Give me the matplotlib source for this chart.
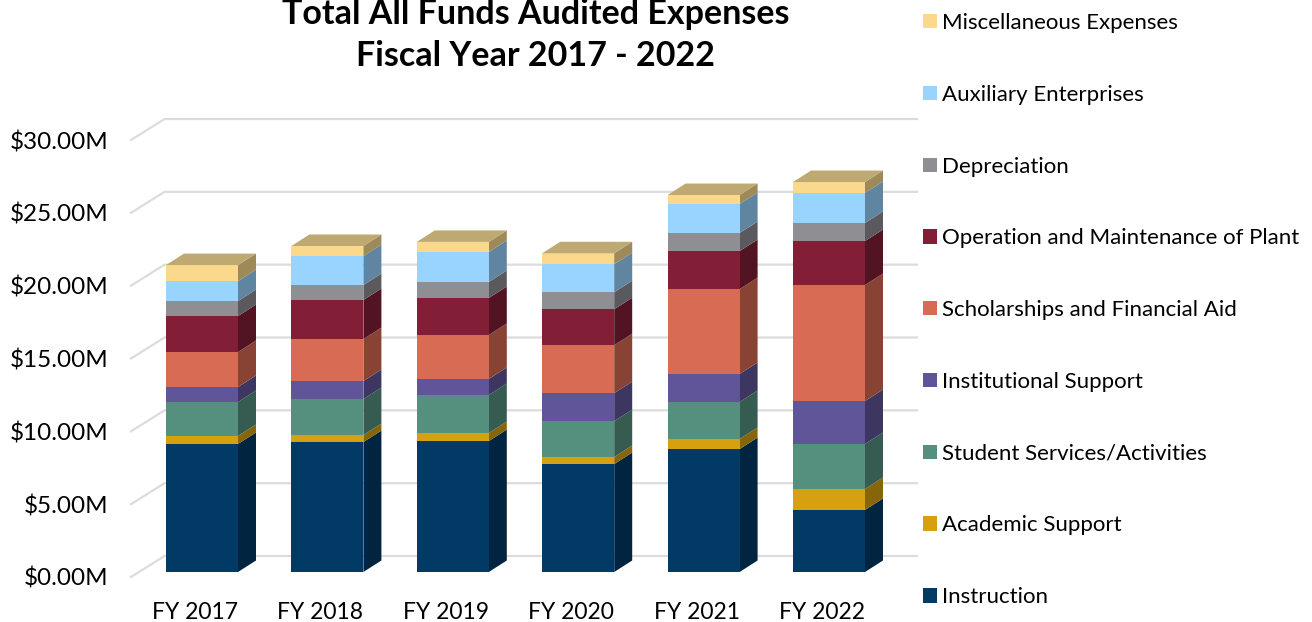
"""Total All Funds audited expenses, stacked pseudo-3D columns."""

import matplotlib

matplotlib.use("Agg")
import matplotlib.pyplot as plt
from matplotlib.colors import to_rgb
from matplotlib.patches import Patch, Polygon

plt.rcParams["font.family"] = ["Lato", "DejaVu Sans"]

YEARS = ["FY 2017", "FY 2018", "FY 2019", "FY 2020", "FY 2021", "FY 2022"]
Y_TICKS = [0, 5, 10, 15, 20, 25, 30]
Y_LABELS = ["$0.00M", "$5.00M", "$10.00M", "$15.00M", "$20.00M", "$25.00M", "$30.00M"]
CATEGORIES = [
    "Instruction", "Academic Support", "Student Services/Activities",
    "Institutional Support", "Scholarships and Financial Aid",
    "Operation and Maintenance of Plant", "Depreciation",
    "Auxiliary Enterprises", "Miscellaneous Expenses",
]

# $M per year
instruction = [8.79, 8.92, 8.99, 7.41, 8.44, 4.26]
academic = [0.55, 0.48, 0.55, 0.48, 0.69, 1.44]
student = [2.33, 2.47, 2.61, 2.47, 2.54, 3.09]
institutional = [1.03, 1.24, 1.10, 1.92, 1.92, 2.95]
scholarships = [2.40, 2.88, 3.02, 3.29, 5.83, 7.96]
operation = [2.47, 2.68, 2.54, 2.47, 2.61, 3.02]
depreciation = [1.03, 1.03, 1.10, 1.17, 1.24, 1.24]
auxiliary = [1.37, 1.99, 2.06, 1.92, 1.99, 2.06]
misc = [1.10, 0.69, 0.69, 0.75, 0.62, 0.75]
SERIES = [instruction, academic, student, institutional, scholarships,
          operation, depreciation, auxiliary, misc]

COLORS = ["#023A66", "#D6A00F", "#55907F", "#5F5598", "#D86B54",
          "#821F36", "#8F8E93", "#99D3FF", "#FAD98C"]
TOP_COLOR = "#BFA972"
GRID = "#DCDCDC"

# pixel geometry of the reference, turned into data units below
PX_X = 125.4  # px per category
PX_Y = 437 / 30  # px per $M
WALL_DX, WALL_DY = 33.5 / PX_X, 21 / PX_Y
BAR_HALF = 36 / PX_X
BAR_DX, BAR_DY = 18 / PX_X, 11.5 / PX_Y
BASE_DY = 5 / PX_Y  # bars stand a little way in from the floor edge
LABEL_SHIFT = 7 / PX_X  # category labels sit left of the bars


def shade(color, k=0.63):
    return tuple(c * k for c in to_rgb(color))


fig = plt.figure(figsize=(13.12, 6.22), dpi=100)
ax = fig.add_axes([131 / 1312, 1 - 577 / 622, (917 - 131) / 1312, 437 / 622])
ax.set_xlim(-71 / PX_X, 715 / PX_X)
ax.set_ylim(0, 30)
for s in ax.spines.values():
    s.set_visible(False)

ax.set_xticks([i - LABEL_SHIFT for i in range(len(YEARS))], YEARS, fontsize=16.5)
ax.set_yticks(Y_TICKS, Y_LABELS, fontsize=17.5)
ax.tick_params(length=0)
ax.tick_params(axis="x", pad=18)
ax.tick_params(axis="y", pad=16)

x0 = ax.get_xlim()[0]
x1 = ax.get_xlim()[1]
for v in Y_TICKS:
    ax.plot([x0, x0 + WALL_DX, x1], [v, v + WALL_DY, v + WALL_DY],
            color=GRID, lw=1.6, zorder=1, clip_on=False)

for i in range(len(YEARS)):
    left, right = i - BAR_HALF, i + BAR_HALF
    bottom = BASE_DY
    for vals, color in zip(SERIES, COLORS):
        top = bottom + vals[i]
        ax.add_patch(Polygon(
            [(right, bottom), (right + BAR_DX, bottom + BAR_DY),
             (right + BAR_DX, top + BAR_DY), (right, top)],
            facecolor=shade(color), edgecolor="none", zorder=2, clip_on=False))
        ax.add_patch(Polygon(
            [(left, bottom), (right, bottom), (right, top), (left, top)],
            facecolor=color, edgecolor="none", zorder=3, clip_on=False))
        bottom = top
    ax.add_patch(Polygon(
        [(left, bottom), (right, bottom), (right + BAR_DX, bottom + BAR_DY),
         (left + BAR_DX, bottom + BAR_DY)],
        facecolor=TOP_COLOR, edgecolor="none", zorder=4, clip_on=False))

fig.text(536 / 1312, 1 - 35 / 622, "Total All Funds Audited Expenses\nFiscal Year 2017 - 2022",
         ha="center", va="center", fontsize=24.5, fontweight="bold", linespacing=1.42)

handles = [Patch(facecolor=c, edgecolor="none", label=n) for c, n in zip(COLORS, CATEGORIES)]
fig.legend(
    handles=handles[::-1], loc="upper left", bbox_to_anchor=(923 / 1312, 1 - 13 / 622),
    frameon=False, fontsize=16, labelspacing=2.33, borderaxespad=0, borderpad=0,
    handlelength=0.62, handleheight=0.62, handletextpad=0.24,
)

fig.savefig("out.png", dpi=100)
